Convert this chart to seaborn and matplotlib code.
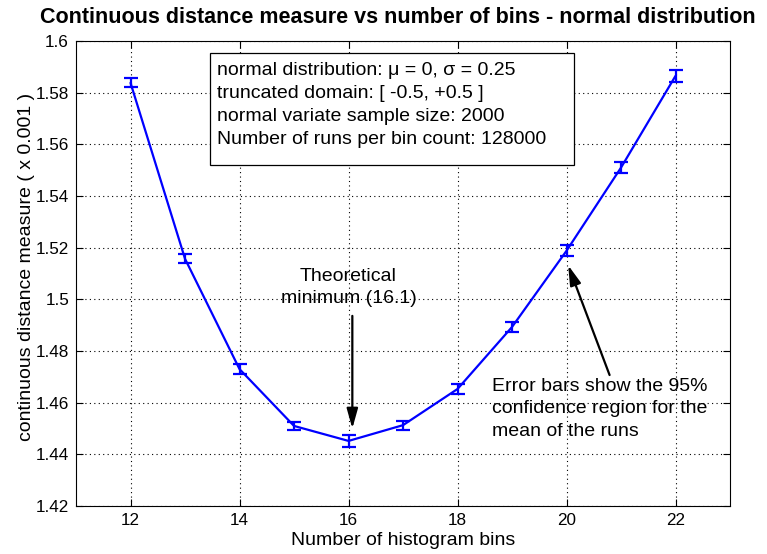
import matplotlib
matplotlib.use("Agg")
import matplotlib.pyplot as plt
from matplotlib.patches import Rectangle
import seaborn as sns
import pandas as pd
import numpy as np

bins = [12, 13, 14, 15, 16, 17, 18, 19, 20, 21, 22]
distance = [1.5838, 1.5157, 1.4730, 1.4510, 1.4452, 1.4513, 1.4653, 1.4893, 1.5188, 1.5510, 1.5865]
ci_half = [0.0017, 0.0018, 0.0018, 0.0017, 0.0022, 0.0018, 0.0018, 0.0019, 0.0021, 0.0021, 0.0022]
x_ticks = [12, 14, 16, 18, 20, 22]
y_ticks = [1.42, 1.44, 1.46, 1.48, 1.5, 1.52, 1.54, 1.56, 1.58, 1.6]
y_tick_labels = ["1.42", "1.44", "1.46", "1.48", "1.5", "1.52", "1.54", "1.56", "1.58", "1.6"]

df = pd.DataFrame({"bins": bins, "distance": distance, "ci": ci_half})

sns.set_theme(style="white")
plt.rcParams["font.family"] = ["Liberation Sans", "DejaVu Sans"]
plt.rcParams["text.color"] = "black"
plt.rcParams["axes.labelcolor"] = "black"

fig = plt.figure(figsize=(7.67, 5.54), dpi=100)
ax = fig.add_axes([0.0991, 0.0866, 0.8527, 0.8394])

sns.lineplot(data=df, x="bins", y="distance", ax=ax, color="#0000ff", linewidth=1.6)
ax.errorbar(df["bins"], df["distance"], yerr=df["ci"], fmt="none", ecolor="#0000ff",
            elinewidth=1.6, capsize=5, capthick=1.6)

ax.set_xlim(11, 23)
ax.set_ylim(1.42, 1.6)
ax.set_xticks(x_ticks)
ax.set_yticks(y_ticks)
ax.set_yticklabels(y_tick_labels)
ax.tick_params(axis="both", direction="in", length=5, width=0.8, labelsize=12.3,
               top=True, right=True, bottom=True, left=True, colors="black",
               labelcolor="black", pad=5)
ax.grid(True, linestyle=(0, (1, 3)), color="black", linewidth=0.8)
for s in ax.spines.values():
    s.set_color("black")
    s.set_linewidth(0.8)

ax.set_xlabel("Number of histogram bins", fontsize=14, labelpad=3, color="black")
ax.set_ylabel("continuous distance measure ( x 0.001 )", fontsize=14, color="black")
ax.yaxis.set_label_coords(-0.063, 0.515)
fig.text(0.519, 0.969, "Continuous distance measure vs number of bins - normal distribution",
         fontsize=15.5, fontweight="bold", ha="center", va="center", color="black")

# info box
ax.add_patch(Rectangle((0.2049, 0.7328), 0.5566, 0.2412, transform=ax.transAxes,
                       facecolor="white", edgecolor="black", linewidth=0.9, zorder=5))
box_text = ("normal distribution: μ = 0, σ = 0.25\n"
            "truncated domain: [ -0.5, +0.5 ]\n"
            "normal variate sample size: 2000\n"
            "Number of runs per bin count: 128000")
ax.text(0.2156, 0.862, box_text, transform=ax.transAxes, fontsize=14, va="center", ha="left",
        linespacing=1.45, zorder=6, color="black")

ax.text(16.0, 1.5046, "Theoretical\nminimum (16.1)", fontsize=14, ha="center", va="center",
        linespacing=1.35, color="black")
ax.annotate("", xy=(16.07, 1.4500), xytext=(16.07, 1.4936),
            arrowprops=dict(arrowstyle="-|>,head_length=1.0,head_width=0.28", color="black",
                            lw=1.6, shrinkA=0, shrinkB=0))

ax.text(18.63, 1.4576, "Error bars show the 95%\nconfidence region for the\nmean of the runs",
        fontsize=14, ha="left", va="center", linespacing=1.4, color="black")
ax.annotate("", xy=(20.03, 1.5132), xytext=(20.79, 1.4707),
            arrowprops=dict(arrowstyle="-|>,head_length=1.0,head_width=0.28", color="black",
                            lw=1.6, shrinkA=0, shrinkB=0))

fig.savefig("out.png", dpi=100)
